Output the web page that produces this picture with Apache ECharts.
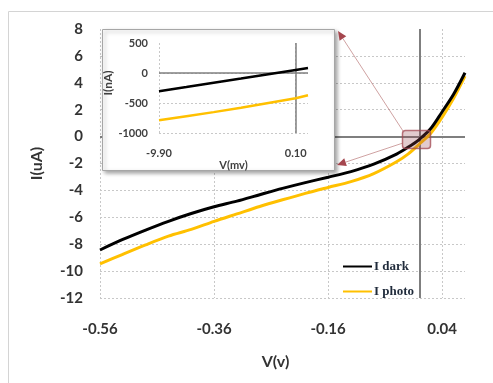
<!DOCTYPE html>
<html>
<head>
<meta charset="utf-8">
<script src="https://cdn.jsdelivr.net/npm/echarts@6/dist/echarts.min.js"></script>
<style>
  html, body { margin: 0; padding: 0; background: #fff; }
  #chart { width: 493px; height: 383px; }
</style>
</head>
<body>
<div id="chart"></div>
<script>
// main sweep: V in volts, I in uA
var voltage = [-0.56, -0.52, -0.48, -0.44, -0.40, -0.36, -0.32, -0.28, -0.24, -0.20,
  -0.16, -0.12, -0.08, -0.04, -0.02, 0.00, 0.02, 0.04, 0.06, 0.08];
var iDark = [-8.43, -7.65, -6.95, -6.30, -5.72, -5.22, -4.80, -4.32, -3.85, -3.42,
  -3.02, -2.60, -2.05, -1.30, -0.80, -0.20, 0.60, 1.85, 3.15, 4.75];
var iPhoto = [-9.47, -8.75, -8.05, -7.40, -6.90, -6.30, -5.75, -5.20, -4.70, -4.22,
  -3.78, -3.35, -2.75, -1.87, -1.30, -0.55, 0.25, 1.45, 2.85, 4.50];

// inset, zoom around origin: V in mV, I in nA
var voltageMv = [-9.9, -7.9, -5.9, -3.9, -1.9, 0.1, 1.0];
var iDarkNa = [-306, -235, -163, -92, -20, 51, 83];
var iPhotoNa = [-789, -720, -652, -580, -500, -420, -372];

var textColor = "#333";
var gridLine = { show: true, lineStyle: { color: "#c8c8c8", type: [2, 2], width: 1 }, showMaxLine: false };

function pairs(xs, ys) {
  return xs.map(function (x, i) { return [x, ys[i]]; });
}

// thin line with a filled head at (x2, y2)
function arrow(x1, y1, x2, y2) {
  var dx = x2 - x1, dy = y2 - y1;
  var len = Math.sqrt(dx * dx + dy * dy);
  var ux = dx / len, uy = dy / len;
  var bx = x2 - ux * 9, by = y2 - uy * 9;
  return [{
    type: "line", z: 8,
    shape: { x1: x1, y1: y1, x2: bx, y2: by },
    style: { stroke: "rgba(175,100,100,0.6)", lineWidth: 1 }
  }, {
    type: "polygon", z: 8,
    shape: { points: [[x2, y2], [bx - uy * 4, by + ux * 4], [bx + uy * 4, by - ux * 4]] },
    style: { fill: "#a5464e" }
  }];
}

var chart = echarts.init(document.getElementById("chart"));

var option = {
  animation: false,
  textStyle: { fontFamily: "Lato" },
  grid: [
    { left: 100, right: 28, top: 29, bottom: 85 },
    { left: 159, right: 185, top: 43, bottom: 250 }
  ],
  xAxis: [{
    type: "value", gridIndex: 0,
    min: -0.56, max: 0.08, interval: 0.2,
    name: "V(v)", nameLocation: "middle", nameGap: 56,
    nameTextStyle: { fontSize: 16, fontWeight: "bold", color: textColor, padding: [0, 14, 0, 0] },
    axisLine: { show: false }, axisTick: { show: false },
    axisLabel: {
      fontSize: 15, fontWeight: "bold", color: textColor, margin: 24, showMaxLabel: false,
      formatter: function (v) { return v.toFixed(2); }
    },
    splitLine: gridLine
  }, {
    type: "value", gridIndex: 1, z: 6,
    min: -9.9, max: 1.0, interval: 10,
    name: "V(mv)", nameLocation: "middle", nameGap: 15,
    nameTextStyle: { fontSize: 11, fontWeight: "bold", color: "#404040" },
    axisLine: { show: false }, axisTick: { show: false },
    axisLabel: {
      fontSize: 11, fontWeight: "bold", color: "#404040", margin: 15, showMaxLabel: false,
      formatter: function (v) { return v.toFixed(2); }
    },
    splitLine: gridLine
  }],
  yAxis: [{
    type: "value", gridIndex: 0,
    min: -12, max: 8, interval: 2,
    name: "I(uA)", nameLocation: "middle", nameGap: 55, nameRotate: 90,
    nameTextStyle: { fontSize: 16, fontWeight: "bold", color: textColor },
    axisLine: { show: false }, axisTick: { show: false },
    axisLabel: { fontSize: 15, fontWeight: "bold", color: textColor, margin: 17 },
    splitLine: gridLine
  }, {
    type: "value", gridIndex: 1, z: 6,
    min: -1000, max: 500, interval: 500,
    name: "I(nA)", nameLocation: "middle", nameGap: 36, nameRotate: 90,
    nameTextStyle: { fontSize: 12, fontWeight: "bold", color: "#404040", padding: [0, 0, 0, 10] },
    axisLine: { show: false }, axisTick: { show: false },
    axisLabel: {
      fontSize: 11, fontWeight: "bold", color: "#404040", margin: 11,
      formatter: function (v) { return String(v); }
    },
    splitLine: gridLine
  }],
  legend: {
    data: [{ name: "I dark", icon: "rect" }, { name: "I photo", icon: "rect" }],
    orient: "vertical", left: 338, top: 255,
    itemWidth: 29, itemHeight: 2, itemGap: 12,
    textStyle: { fontFamily: "Liberation Serif", fontWeight: "bold", fontSize: 13, color: "#1f2a3a", padding: [0, 0, 0, -3] }
  },
  series: [{
    name: "I photo", type: "line", xAxisIndex: 0, yAxisIndex: 0, z: 2,
    data: pairs(voltage, iPhoto), smooth: 0.3, symbol: "none",
    lineStyle: { color: "#ffc000", width: 3 }, itemStyle: { color: "#ffc000" }
  }, {
    name: "I dark", type: "line", xAxisIndex: 0, yAxisIndex: 0, z: 3,
    data: pairs(voltage, iDark), smooth: 0.3, symbol: "none",
    lineStyle: { color: "#000", width: 3 }, itemStyle: { color: "#000" },
    markLine: {
      silent: true, z: 1, symbol: ["none", "none"], label: { show: false },
      lineStyle: { color: "#7f7f7f", width: 2, type: "solid" },
      data: [{ yAxis: 0 }, { xAxis: 0 }]
    }
  }, {
    name: "inset dark", type: "line", xAxisIndex: 1, yAxisIndex: 1, z: 7,
    data: pairs(voltageMv, iDarkNa), symbol: "none",
    lineStyle: { color: "#000", width: 2.5 },
    markLine: {
      silent: true, z: 6, symbol: ["none", "none"], label: { show: false },
      lineStyle: { color: "#7f7f7f", width: 1.5, type: "solid" },
      data: [{ yAxis: 0 }, { xAxis: 0.1 }]
    }
  }, {
    name: "inset photo", type: "line", xAxisIndex: 1, yAxisIndex: 1, z: 7,
    data: pairs(voltageMv, iPhotoNa), symbol: "none",
    lineStyle: { color: "#ffc000", width: 2.5 }
  }],
  graphic: [
    {
      type: "rect", z: -1,
      shape: { x: 8.5, y: 11.5, width: 560, height: 420 },
      style: { fill: "none", stroke: "#d4d4d4", lineWidth: 1 }
    },
    {
      type: "rect", z: 5,
      shape: { x: 102.5, y: 29.5, width: 232, height: 141 },
      style: {
        fill: "#fff", stroke: "#a6a6a6", lineWidth: 1,
        shadowBlur: 4, shadowOffsetX: 2, shadowOffsetY: 2, shadowColor: "rgba(0,0,0,0.35)"
      }
    },
    {
      type: "rect", z: 8,
      shape: { x: 402.5, y: 130.5, width: 28, height: 18, r: 3 },
      style: { fill: "rgba(150,70,80,0.28)", stroke: "rgba(160,70,80,0.75)", lineWidth: 1.5 }
    }
  ].concat(arrow(403, 131, 338, 31)).concat(arrow(403, 143, 337, 165))
};

chart.setOption(option);
</script>
</body>
</html>
